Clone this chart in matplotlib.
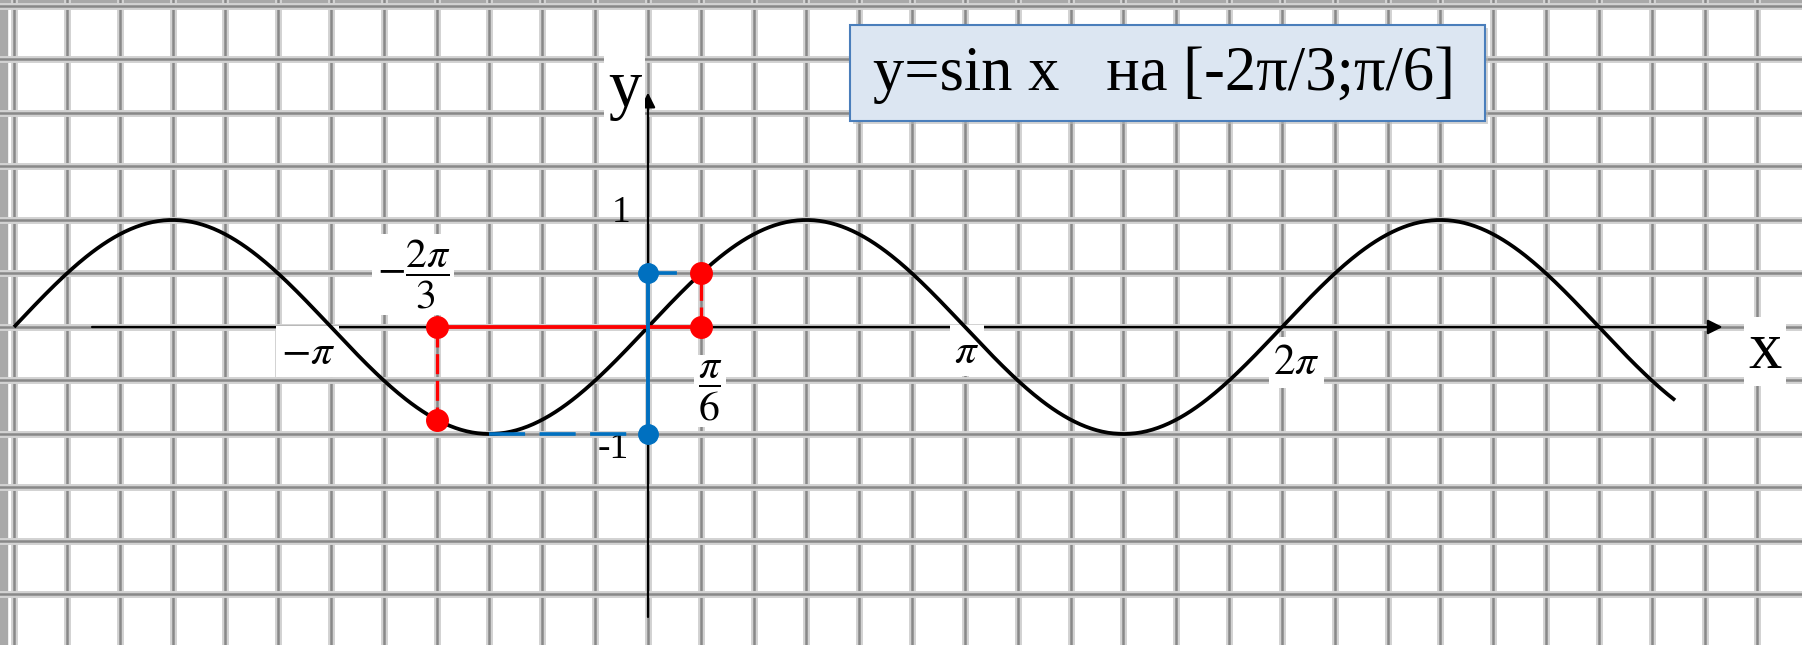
import numpy as np
import matplotlib
matplotlib.use('Agg')
import matplotlib.pyplot as plt
from matplotlib.patches import Rectangle

plt.rcParams['mathtext.fontset'] = 'stix'

# data
x_start, x_stop = -2 * np.pi, 3.24 * np.pi
seg_a, seg_b = -2 * np.pi / 3, np.pi / 6          # the interval
y_min_val, y_max_val = -1.0, 0.5                   # range of sin on it
y_min_x = -np.pi / 2                               # where the minimum is reached
x_tick_vals = [-np.pi, np.pi, 2 * np.pi]
x_tick_text = [r'$-\pi$', r'$\pi$', r'$2\pi$']
title = 'y=sin x   на [-2π/3;π/6]'

RED = '#ff0000'
BLUE = '#0070c0'

fig = plt.figure(figsize=(18.02, 6.45), dpi=100)
ax = fig.add_axes([0, 0, 1, 1])
ax.set_xlim(-6.422, 11.437)
ax.set_ylim(-2.972, 3.056)
ax.axis('off')

# squared paper: pi/6 across, 0.5 up
for k in range(-12, 22):
    ax.axvline(k * np.pi / 6, color='#d2d2d2', lw=5, zorder=0)
    ax.axvline(k * np.pi / 6, color='#888888', lw=1.8, zorder=0)
for j in range(-5, 7):
    ax.axhline(j * 0.5, color='#d2d2d2', lw=5, zorder=0)
    ax.axhline(j * 0.5, color='#888888', lw=1.8, zorder=0)

# gray frame bits at top / left
fig.patches.append(Rectangle((0, 1 - 7 / 645), 1, 7 / 645, transform=fig.transFigure,
                             color='#a9a9a9', zorder=-1))
fig.patches.append(Rectangle((0, 0), 7 / 1802, 1, transform=fig.transFigure,
                             color='#a9a9a9', zorder=-1))

# axes with arrows
ax.annotate('', xy=(10.65, 0), xytext=(-5.51, 0),
            arrowprops=dict(arrowstyle='-|>', lw=1.6, color='black', mutation_scale=22,
                            shrinkA=0, shrinkB=0), zorder=2)
ax.annotate('', xy=(0, 2.19), xytext=(0, -2.71),
            arrowprops=dict(arrowstyle='-|>', lw=1.6, color='black', mutation_scale=22,
                            shrinkA=0, shrinkB=0), zorder=2)

white = dict(facecolor='white', edgecolor='none', pad=3)
ax.text(-0.23, 2.21, 'y', fontsize=48, family='Liberation Serif', ha='center', va='center',
        bbox=white, zorder=3)
ax.text(11.07, -0.23, 'x', fontsize=48, family='Liberation Serif', ha='center', va='center',
        bbox=white, zorder=3)
ax.text(-0.27, 1.07, '1', fontsize=27, family='Liberation Serif', ha='center', va='center',
        zorder=3)
ax.text(-0.34, -1.14, '-1', fontsize=27, family='Liberation Serif', ha='center', va='center',
        zorder=3)

tick_offsets = [(-0.23, -0.23), (0.02, -0.22), (0.14, -0.33)]
for v, t, (dx, dy) in zip(x_tick_vals, x_tick_text, tick_offsets):
    ax.text(v + dx, dy, t, fontsize=31, ha='center', va='center', bbox=white, zorder=3)

ax.text(seg_a - 0.23, 0.49, r'$-\dfrac{2\pi}{3}$', fontsize=30, ha='center', va='center',
        bbox=white, zorder=3)
ax.text(seg_b + 0.09, -0.60, r'$\dfrac{\pi}{6}$', fontsize=30, ha='center', va='center',
        bbox=white, zorder=3)

# the sine curve
xs = np.linspace(x_start, x_stop, 900)
ax.plot(xs, np.sin(xs), color='black', lw=2.7, zorder=4, solid_capstyle='butt')

# interval on the x axis and its ends on the curve
ax.plot([seg_a, seg_b], [0, 0], color=RED, lw=2.7, zorder=5)
ax.plot([seg_a, seg_a], [0, np.sin(seg_a)], color=RED, lw=2.4, ls=(0, (6, 2)), zorder=5)
ax.plot([seg_b, seg_b], [0, np.sin(seg_b)], color=RED, lw=2.4, ls=(0, (6, 2)), zorder=5)

# range on the y axis
ax.plot([0, 0], [y_min_val, y_max_val], color=BLUE, lw=2.8, zorder=5)
ax.plot([0, seg_b], [y_max_val, y_max_val], color=BLUE, lw=2.6, ls=(0, (8, 4)), zorder=5)
ax.plot([y_min_x, 0], [y_min_val, y_min_val], color=BLUE, lw=2.6, ls=(0, (10, 4)), zorder=5)

ax.plot([seg_a, seg_a, seg_b, seg_b], [0, np.sin(seg_a), 0, np.sin(seg_b)], 'o',
        color=RED, ms=15.5, zorder=6)
ax.plot([0, 0], [y_max_val, y_min_val], 'o', color=BLUE, ms=14, zorder=6)

# title box
fig.patches.append(Rectangle((853 / 1802, 1 - 124 / 645), 635 / 1802, 96 / 645,
                             transform=fig.transFigure, facecolor='#b8b8b8',
                             edgecolor='none', zorder=7, alpha=0.6))
fig.patches.append(Rectangle((850 / 1802, 1 - 121 / 645), 635 / 1802, 96 / 645,
                             transform=fig.transFigure, facecolor='#dce6f2',
                             edgecolor='#4a7ebb', lw=1.5, zorder=8))
fig.text(1164 / 1802, 1 - 75 / 645, title, fontsize=45, family='Liberation Serif',
         ha='center', va='center', zorder=9)

fig.savefig('out.png', dpi=100)
